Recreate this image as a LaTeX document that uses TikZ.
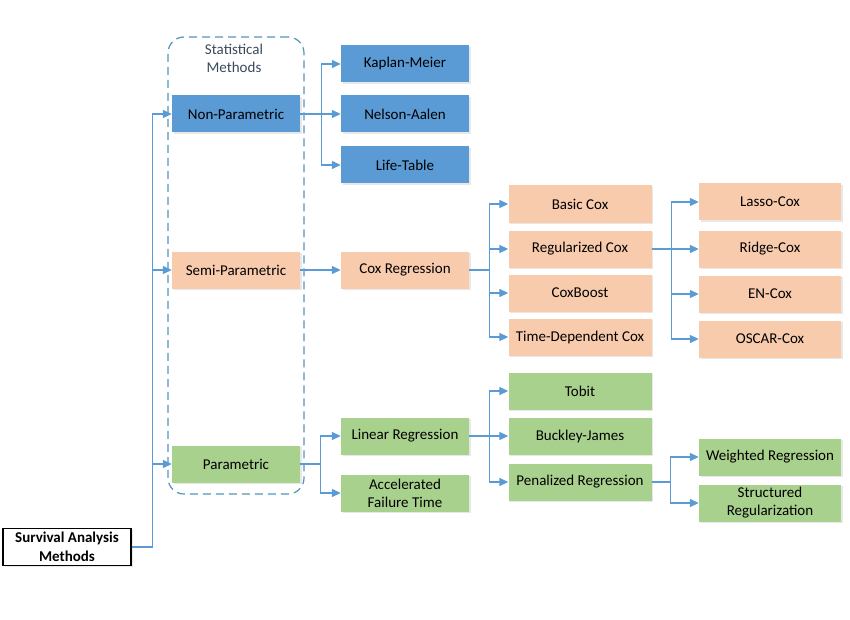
\documentclass[tikz,border=0pt]{standalone}
\usepackage{fontspec}
\setmainfont{Carlito}
\usetikzlibrary{arrows.meta,shadows}
\definecolor{npblue}{HTML}{5B9BD5}
\definecolor{spsalmon}{HTML}{F8CBAD}
\definecolor{pgreen}{HTML}{A9D18E}
\definecolor{linkblue}{HTML}{5B9BD5}
\definecolor{dashteal}{HTML}{5595B8}
\definecolor{slate}{HTML}{3B4A5A}

\begin{document}
\begin{tikzpicture}[x=1pt,y=-1pt,font=\fontsize{15}{18}\selectfont,
  box/.style = {minimum height=37pt, inner sep=2pt, align=center,
    drop shadow={opacity=0.18, shadow xshift=1.5pt, shadow yshift=-1.5pt}},
  npbox/.style = {box, fill=npblue, minimum width=128pt},
  spbox/.style = {box, fill=spsalmon, minimum width=128pt},
  pbox/.style = {box, fill=pgreen, minimum width=128pt},
  spleaf/.style = {spbox, minimum width=143pt},
  pleaf/.style = {pbox, minimum width=143pt},
  rootbox/.style = {box, draw=black, line width=1.3pt, fill=white, minimum width=128pt,
    font=\fontsize{15}{18.5}\selectfont\bfseries},
  groupbox/.style = {draw=dashteal, line width=1.2pt, dash pattern=on 8pt off 5pt,
    rounded corners=16pt, minimum width=136pt, minimum height=457pt, inner sep=0pt},
  link/.style = {draw=linkblue, line width=1.3pt, -{Triangle[length=9pt,width=8pt]}},
]
\useasboundingbox (0,0) rectangle (850,620);

% statistical methods group
\node (group) at (236,265.5)[groupbox] {};
\node (grouplabel) at (234,58)[align=center, text=slate] {Statistical\\Methods};

% first level
\node (sam) at (67,547)[rootbox] {Survival Analysis\\Methods};
\node (np) at (236,114)[npbox] {Non-Parametric};
\node (sp) at (236,270)[spbox] {Semi-Parametric};
\node (par) at (236,464)[pbox] {Parametric};

% non-parametric
\node (km) at (405,64)[npbox] {Kaplan-Meier};
\node (na) at (405,114)[npbox] {Nelson-Aalen};
\node (lt) at (405,165)[npbox] {Life-Table};

% semi-parametric
\node (cox) at (405,270)[spbox] {Cox Regression};
\node (basic) at (580,204)[spleaf] {Basic Cox};
\node (reg) at (580,249)[spleaf] {Regularized Cox};
\node (boost) at (580,293)[spleaf] {CoxBoost};
\node (tdc) at (580,337)[spleaf] {Time-Dependent Cox};
\node (lasso) at (770,202)[spleaf, minimum width=142pt] {Lasso-Cox};
\node (ridge) at (770,249)[spleaf, minimum width=142pt] {Ridge-Cox};
\node (en) at (770,294)[spleaf, minimum width=142pt] {EN-Cox};
\node (oscar) at (770,339)[spleaf, minimum width=142pt] {OSCAR-Cox};

% parametric
\node (lin) at (405,436)[pbox] {Linear Regression};
\node (aft) at (405,493)[pbox] {Accelerated\\Failure Time};
\node (tobit) at (580,391)[pleaf] {Tobit};
\node (bj) at (580,436)[pleaf] {Buckley-James};
\node (pen) at (580,482)[pleaf] {Penalized Regression};
\node (wr) at (770,457)[pleaf, minimum width=142pt] {Weighted Regression};
\node (sr) at (770,503)[pleaf, minimum width=142pt] {Structured\\Regularization};

% connectors
\foreach \dst in {np,sp,par} \draw[link] (sam.east) -- ++(20.5,0) |- (\dst.west);
\foreach \dst in {km,na,lt} \draw[link] (np.east) -- ++(21,0) |- (\dst.west);
\draw[link] (sp.east) -- (cox.west);
\foreach \dst in {basic,reg,boost,tdc} \draw[link] (cox.east) -- ++(20,0) |- (\dst.west);
\foreach \dst in {lasso,ridge,en,oscar} \draw[link] (reg.east) -- ++(20,0) |- (\dst.west);
\foreach \dst in {lin,aft} \draw[link] (par.east) -- ++(20,0) |- (\dst.west);
\foreach \dst in {tobit,bj,pen} \draw[link] (lin.east) -- ++(20,0) |- (\dst.west);
\foreach \dst in {wr,sr} \draw[link] (pen.east) -- ++(19,0) |- (\dst.west);
\end{tikzpicture}
\end{document}
